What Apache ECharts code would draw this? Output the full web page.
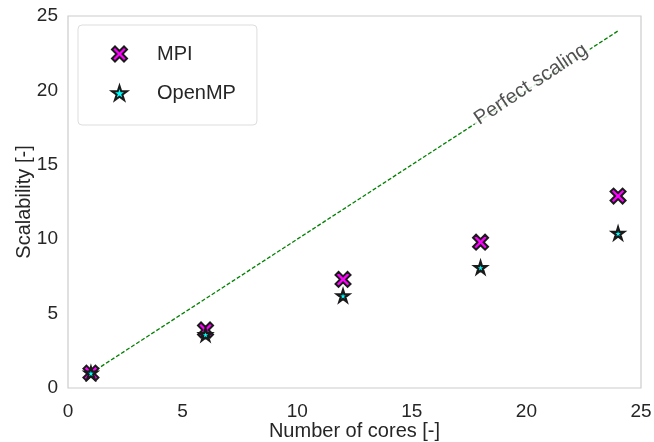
<!DOCTYPE html>
<html>
<head>
<meta charset="utf-8">
<script src="https://cdn.jsdelivr.net/npm/echarts@6/dist/echarts.min.js"></script>
<style>
  html, body { margin: 0; padding: 0; background: #ffffff; }
  #chart { width: 654px; height: 442px; }
</style>
</head>
<body>
<div id="chart"></div>
<script>
// Core counts and measured speed-ups
const cores = [1, 6, 12, 18, 24];
const mpiScalability = [1.0, 3.9, 7.3, 9.8, 12.9];
const openmpScalability = [1.0, 3.6, 6.2, 8.1, 10.4];
// Ideal speed-up reference line (y = x)
const idealCores = [1, 24];
const xTicks = [0, 5, 10, 15, 20, 25];
const yTicks = [0, 5, 10, 15, 20, 25];

const xShape = 'path://M0,2 L2,0 L5,3 L8,0 L10,2 L7,5 L10,8 L8,10 L5,7 L2,10 L0,8 L3,5 Z';
const starShape = 'path://M50,0 L61.17,34.63 L97.55,34.55 L68.07,55.87 L79.39,90.45 L50,69 L20.61,90.45 L31.93,55.87 L2.45,34.55 L38.83,34.63 Z';

const textColor = '#262626';
const fontFamily = 'Liberation Sans, Arial, sans-serif';

const chart = echarts.init(document.getElementById('chart'), null, { renderer: 'canvas' });

chart.setOption({
  animation: false,
  backgroundColor: '#ffffff',
  textStyle: { fontFamily: fontFamily, color: textColor },
  grid: {
    left: 68, right: 13, top: 16, bottom: 54,
    outerBoundsMode: 'none', containLabel: false,
    show: true, borderColor: '#cccccc', borderWidth: 1.2, backgroundColor: 'transparent'
  },
  legend: {
    data: ['MPI', 'OpenMP'],
    orient: 'vertical',
    left: 78, top: 25,
    padding: [19, 21, 22, 33],
    itemGap: 19,
    itemWidth: 15, itemHeight: 15,
    backgroundColor: '#ffffff',
    borderColor: '#dddddd', borderWidth: 1, borderRadius: 4,
    textStyle: {
      fontSize: 20, lineHeight: 20, color: textColor, fontFamily: fontFamily,
      padding: [0, 0, 0, 25]
    }
  },
  xAxis: {
    type: 'value', min: xTicks[0], max: xTicks[xTicks.length - 1], interval: 5,
    name: 'Number of cores [-]', nameLocation: 'middle', nameGap: 33,
    nameMoveOverlap: false,
    nameTextStyle: { fontSize: 20, color: textColor, fontFamily: fontFamily },
    axisLine: { show: false }, axisTick: { show: false }, splitLine: { show: false },
    axisLabel: { fontSize: 19, color: textColor, fontFamily: fontFamily, margin: 14 }
  },
  yAxis: {
    type: 'value', min: yTicks[0], max: yTicks[yTicks.length - 1], interval: 5,
    name: 'Scalability [-]', nameLocation: 'middle', nameGap: 34,
    nameMoveOverlap: false,
    nameTextStyle: { fontSize: 20, color: textColor, fontFamily: fontFamily },
    axisLine: { show: false }, axisTick: { show: false }, splitLine: { show: false },
    axisLabel: { fontSize: 19, color: textColor, fontFamily: fontFamily, margin: 10 }
  },
  series: [
    {
      name: 'Perfect scaling',
      type: 'line',
      data: idealCores.map(c => [c, c]),
      symbol: 'none',
      lineStyle: { color: '#008000', width: 1.3, type: [4, 2] },
      silent: true, z: 1
    },
    {
      name: 'Perfect scaling label',
      type: 'scatter',
      data: [[20.2, 20.4]],
      symbolSize: 0,
      silent: true, z: 3,
      label: {
        show: true, position: 'inside', formatter: 'Perfect scaling',
        rotate: 33.5, fontSize: 20, color: textColor, fontFamily: fontFamily,
        textBorderWidth: 0, backgroundColor: '#ffffff', padding: [0, 3]
      }
    },
    {
      name: 'MPI',
      type: 'scatter',
      data: cores.map((c, i) => [c, mpiScalability[i]]),
      symbol: xShape, symbolSize: 15,
      itemStyle: { color: '#ff00ff', borderColor: '#1a1a1a', borderWidth: 2, opacity: 1 },
      z: 4
    },
    {
      name: 'OpenMP',
      type: 'scatter',
      data: cores.map((c, i) => [c, openmpScalability[i]]),
      symbol: starShape, symbolSize: 12,
      itemStyle: { color: '#00ffff', borderColor: '#1a1a1a', borderWidth: 2.2, opacity: 1 },
      z: 5
    }
  ]
});
</script>
</body>
</html>
